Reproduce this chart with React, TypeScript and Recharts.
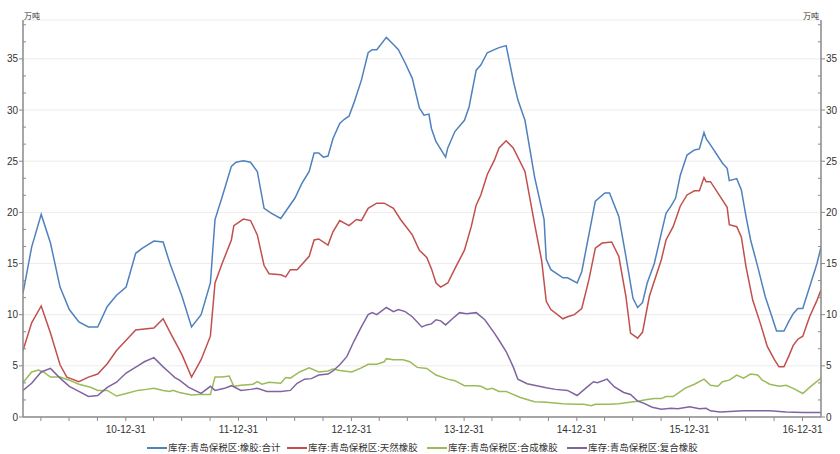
import React from "react";
import { LineChart, Line, XAxis, YAxis, CartesianGrid } from "recharts";

// ---------- data ----------
const totalDates = [
  "2010-02-01","2010-03-01","2010-04-01","2010-05-01","2010-06-01","2010-07-01","2010-08-01","2010-09-01","2010-10-01","2010-11-01","2010-12-01",
  "2011-01-01","2011-02-01","2011-02-23","2011-04-01","2011-05-01","2011-05-23","2011-07-01","2011-08-01","2011-09-01","2011-10-01","2011-10-16","2011-11-08","2011-12-08","2011-12-23",
  "2012-01-16","2012-02-08","2012-03-01","2012-03-23","2012-04-16","2012-05-16","2012-06-08","2012-07-01","2012-07-23","2012-08-16","2012-09-01","2012-09-16","2012-10-01","2012-10-16","2012-11-01","2012-11-23","2012-12-08","2012-12-23",
  "2013-01-08","2013-02-01","2013-02-23","2013-03-08","2013-03-23","2013-04-23","2013-05-16","2013-06-01","2013-06-23","2013-07-16","2013-08-08","2013-08-23","2013-09-08","2013-09-16","2013-10-01","2013-11-01","2013-11-08","2013-12-01",
  "2014-01-01","2014-01-16","2014-02-08","2014-02-23","2014-03-16","2014-04-08","2014-04-23","2014-05-16","2014-06-08","2014-06-23","2014-07-16","2014-08-16","2014-09-16","2014-09-23","2014-10-08","2014-11-16","2014-12-01",
  "2015-01-01","2015-01-16","2015-03-01","2015-04-01","2015-04-16","2015-05-16","2015-06-08","2015-07-01","2015-07-16","2015-08-01","2015-08-16","2015-09-08","2015-10-01","2015-10-16","2015-11-01","2015-11-16","2015-12-01","2015-12-23",
  "2016-01-16","2016-02-01","2016-02-16","2016-02-23","2016-03-08","2016-04-16","2016-05-01","2016-05-08","2016-06-01","2016-06-16","2016-07-01","2016-07-16","2016-08-08","2016-09-01","2016-09-23","2016-10-08","2016-11-01","2016-11-16","2016-12-01","2016-12-16",
  "2017-01-01","2017-01-23","2017-02-16","2017-03-01",
];
const totalValues = [
  12.1,16.6,19.8,17.0,12.7,10.5,9.3,8.8,8.8,10.8,11.9,
  12.7,16.0,16.5,17.2,17.1,15.0,11.8,8.8,10.0,13.1,19.3,21.5,24.5,24.9,
  25.05,24.9,24.0,20.4,19.9,19.4,20.4,21.4,22.8,24.0,25.8,25.8,25.4,25.5,27.2,28.7,29.1,29.4,
  30.7,32.9,35.6,35.9,35.9,37.1,36.4,35.9,34.6,33.1,30.2,29.5,29.6,28.2,26.9,25.4,26.3,27.9,
  29.0,30.3,33.9,34.4,35.6,35.9,36.1,36.3,32.9,31.0,29.0,23.5,19.3,15.4,14.4,13.6,13.6,
  13.1,14.2,21.1,21.9,21.9,19.6,15.7,11.6,10.7,11.2,13.1,15.0,18.0,19.9,20.6,21.4,23.6,25.6,
  26.1,26.2,27.8,27.2,26.6,24.8,24.3,23.1,23.3,22.2,19.6,17.3,14.7,11.8,9.8,8.4,8.4,9.3,10.1,10.6,
  10.6,12.7,15.0,16.6,
];

const naturalDates = [
  "2010-02-01","2010-03-01","2010-04-01","2010-05-01","2010-06-01","2010-06-23","2010-08-01","2010-09-01","2010-10-01","2010-11-01","2010-12-01",
  "2011-01-01","2011-02-01","2011-03-01","2011-04-01","2011-05-01","2011-05-23","2011-07-01","2011-08-01","2011-09-01","2011-10-01","2011-10-16","2011-11-08","2011-12-08","2011-12-16",
  "2012-01-16","2012-02-08","2012-03-01","2012-03-23","2012-04-08","2012-05-16","2012-06-01","2012-06-16","2012-07-08","2012-08-16","2012-09-01","2012-09-16","2012-10-16","2012-11-01","2012-11-23","2012-12-23",
  "2013-01-16","2013-02-01","2013-02-23","2013-03-23","2013-04-16","2013-05-16","2013-06-08","2013-07-01","2013-07-16","2013-08-08","2013-09-01","2013-09-16","2013-10-01","2013-10-16","2013-11-08","2013-12-01",
  "2014-01-01","2014-01-23","2014-02-08","2014-02-23","2014-03-16","2014-04-08","2014-04-23","2014-05-16","2014-06-08","2014-07-16","2014-08-16","2014-09-08","2014-09-23","2014-10-08","2014-11-16","2014-12-01","2014-12-23",
  "2015-01-16","2015-02-08","2015-03-01","2015-03-23","2015-04-23","2015-05-16","2015-06-08","2015-06-23","2015-07-16","2015-08-01","2015-08-23","2015-10-01","2015-10-16","2015-11-08","2015-12-01","2015-12-23",
  "2016-01-16","2016-02-01","2016-02-16","2016-02-23","2016-03-08","2016-04-16","2016-05-01","2016-05-08","2016-06-01","2016-06-16","2016-07-01","2016-07-23","2016-08-16","2016-09-08","2016-10-01","2016-10-16","2016-11-01","2016-11-16","2016-12-01","2016-12-16",
  "2017-01-01","2017-01-23","2017-02-16","2017-03-01",
];
const naturalValues = [
  6.5,9.2,10.85,8.2,5.1,3.9,3.45,3.9,4.2,5.2,6.5,
  7.5,8.5,8.6,8.7,9.6,8.3,6.1,3.9,5.6,7.9,13.1,15.0,17.3,18.7,
  19.35,19.2,17.8,14.8,14.0,13.9,13.7,14.4,14.4,15.7,17.3,17.4,16.8,18.1,19.2,18.7,
  19.3,19.2,20.4,20.9,20.9,20.4,19.3,18.4,17.8,16.3,15.6,14.5,13.1,12.7,13.1,14.5,
  16.3,18.6,20.7,21.7,23.7,25.1,26.3,27.0,26.3,24.0,18.9,15.3,11.3,10.5,9.6,9.8,10.0,
  10.6,13.4,16.5,17.0,17.1,15.7,11.8,8.2,7.7,8.3,11.8,15.4,17.3,18.6,20.6,21.7,
  22.1,22.1,23.4,23.0,23.0,21.2,20.5,18.8,18.6,17.6,14.7,11.4,9.2,6.9,5.6,4.9,4.9,5.9,7.0,7.6,
  7.9,9.8,11.4,12.4,
];

const syntheticDates = [
  "2010-02-01","2010-03-01","2010-03-23","2010-04-08","2010-05-01","2010-06-01","2010-07-01","2010-08-01","2010-09-08","2010-10-01","2010-11-01","2010-12-01",
  "2011-01-01","2011-02-08","2011-03-08","2011-04-01","2011-05-01","2011-05-23","2011-06-01","2011-06-23","2011-08-01","2011-08-23","2011-10-01","2011-10-16","2011-11-08","2011-12-01","2011-12-16",
  "2012-01-08","2012-02-16","2012-03-01","2012-03-16","2012-04-08","2012-05-16","2012-06-01","2012-06-16","2012-07-16","2012-08-16","2012-09-16","2012-10-16","2012-11-01","2012-11-23",
  "2013-01-01","2013-02-01","2013-02-23","2013-03-23","2013-04-16","2013-04-23","2013-05-16","2013-06-16","2013-07-08","2013-08-01","2013-09-01","2013-10-01","2013-11-08","2013-12-01",
  "2014-01-01","2014-02-08","2014-02-23","2014-03-16","2014-04-01","2014-04-23","2014-05-16","2014-07-01","2014-08-16","2014-09-23","2014-11-16",
  "2015-01-01","2015-01-23","2015-02-16","2015-03-01","2015-04-16","2015-05-16","2015-06-08","2015-07-16","2015-08-16","2015-09-08","2015-10-01","2015-10-16","2015-11-08","2015-11-23","2015-12-16",
  "2016-01-16","2016-02-16","2016-03-08","2016-04-01","2016-04-16","2016-05-08","2016-06-01","2016-06-23","2016-07-16","2016-08-08","2016-08-23","2016-09-16","2016-10-16","2016-11-08","2016-12-01",
  "2017-01-01","2017-01-23","2017-03-01",
];
const syntheticValues = [
  3.35,4.4,4.6,4.4,3.9,3.9,3.6,3.2,2.9,2.6,2.6,2.05,
  2.3,2.6,2.7,2.8,2.6,2.5,2.6,2.4,2.15,2.2,2.2,3.9,3.9,4.0,3.0,
  3.1,3.2,3.45,3.2,3.4,3.3,3.85,3.8,4.4,4.8,4.4,4.5,4.7,4.55,
  4.4,4.8,5.15,5.15,5.4,5.7,5.6,5.6,5.4,4.85,4.75,4.1,3.7,3.55,
  3.06,3.06,3.0,2.7,2.8,2.5,2.5,1.9,1.5,1.45,1.3,
  1.25,1.25,1.1,1.25,1.25,1.3,1.4,1.55,1.7,1.8,1.8,2.0,2.0,2.3,2.8,
  3.2,3.7,3.1,3.0,3.45,3.6,4.1,3.8,4.2,4.1,3.6,3.2,3.0,3.1,2.8,
  2.3,2.9,3.8,
];

const compoundDates = [
  "2010-02-01","2010-03-01","2010-04-01","2010-05-01","2010-06-01","2010-07-01","2010-08-01","2010-09-01","2010-10-01","2010-11-01","2010-12-01",
  "2011-01-01","2011-02-08","2011-03-01","2011-04-01","2011-05-01","2011-05-23","2011-06-08","2011-06-23","2011-07-23","2011-09-01","2011-10-01","2011-10-16","2011-11-16","2011-12-08",
  "2012-01-08","2012-02-08","2012-03-01","2012-04-01","2012-05-16","2012-06-16","2012-07-08","2012-08-01","2012-08-23","2012-09-16","2012-10-16","2012-11-01","2012-11-23","2012-12-16",
  "2013-01-08","2013-02-01","2013-02-23","2013-03-08","2013-03-23","2013-04-23","2013-05-16","2013-06-01","2013-06-23","2013-07-16","2013-08-16","2013-09-01","2013-09-16","2013-10-01","2013-10-16","2013-11-01","2013-11-23","2013-12-16",
  "2014-01-08","2014-02-08","2014-03-08","2014-04-08","2014-04-23","2014-05-16","2014-06-08","2014-06-23","2014-07-23","2014-08-23","2014-09-23","2014-10-23","2014-12-01",
  "2015-01-01","2015-02-01","2015-02-23","2015-03-08","2015-04-08","2015-05-01","2015-06-01","2015-06-23","2015-07-16","2015-08-01","2015-09-01","2015-10-01","2015-11-01","2015-11-23",
  "2016-01-01","2016-02-01","2016-02-23","2016-03-08","2016-04-08","2016-06-23","2016-09-16","2016-11-08",
  "2017-01-01","2017-03-01",
];
const compoundValues = [
  2.6,3.3,4.4,4.75,3.8,3.0,2.5,2.0,2.1,2.9,3.4,
  4.3,5.0,5.4,5.8,4.9,4.3,3.85,3.6,2.9,2.3,3.0,2.6,2.8,3.06,
  2.6,2.7,2.8,2.5,2.5,2.6,3.3,3.7,3.75,4.1,4.2,4.5,5.1,5.9,
  7.4,8.8,10.0,10.2,10.0,10.7,10.3,10.5,10.3,9.8,8.8,9.0,9.1,9.5,9.4,9.0,9.6,10.2,
  10.1,10.2,9.5,8.2,7.5,6.4,4.9,3.7,3.25,3.05,2.85,2.7,2.6,
  2.1,2.9,3.45,3.35,3.7,2.96,2.4,2.2,1.55,1.4,0.95,0.75,0.85,0.8,
  1.0,0.8,0.85,0.6,0.5,0.6,0.6,0.5,
  0.45,0.45,
];

const seriesNames = [
  "库存:青岛保税区:橡胶:合计",
  "库存:青岛保税区:天然橡胶",
  "库存:青岛保税区:合成橡胶",
  "库存:青岛保税区:复合橡胶",
];
const seriesColors = ["#4f81bd", "#c0504d", "#9bbb59", "#8064a2"];

const yTickValues = [0, 5, 10, 15, 20, 25, 30, 35];
const xTickDates = [
  "2010-03-31","2010-06-30","2010-09-30","2010-12-31",
  "2011-03-31","2011-06-30","2011-09-30","2011-12-31",
  "2012-03-31","2012-06-30","2012-09-30","2012-12-31",
  "2013-03-31","2013-06-30","2013-09-30","2013-12-31",
  "2014-03-31","2014-06-30","2014-09-30","2014-12-31",
  "2015-03-31","2015-06-30","2015-09-30","2015-12-31",
  "2016-03-31","2016-06-30","2016-09-30","2016-12-31",
];
const xDomainDates = ["2010-02-01", "2017-03-01"];
const unitLabel = "万吨";

// ---------- helpers ----------
const toTs = (s: string) => {
  const [y, m, d] = s.split("-").map(Number);
  return Date.UTC(y, m - 1, d);
};
const build = (dates: string[], values: number[]) =>
  dates.map((d, i) => ({ t: toTs(d), v: values[i] }));

const seriesData = [
  build(totalDates, totalValues),
  build(naturalDates, naturalValues),
  build(syntheticDates, syntheticValues),
  build(compoundDates, compoundValues),
];

const W = 840;
const H = 454;
const LEFT_X = 23;
const RIGHT_X = 821;
const TOP_Y = 20;
const BOTTOM_Y = 417;
const Y_MAX = 38.8;
const PX_PER_UNIT = (BOTTOM_Y - TOP_Y) / Y_MAX;
const AXIS_COLOR = "#8a8a8a";
const TEXT_COLOR = "#333333";
const FONT = "'Liberation Sans', 'Noto Sans CJK SC', sans-serif";

const minorSteps = [5 / 3, 10 / 3];

const LeftTick = (props: any) => {
  const { y, payload } = props;
  const v = payload.value as number;
  return (
    <g>
      <line x1={LEFT_X - 4} x2={LEFT_X} y1={y} y2={y} stroke={AXIS_COLOR} strokeWidth={1} />
      {minorSteps
        .filter((s) => v + s <= Y_MAX)
        .map((s) => (
          <line key={s} x1={LEFT_X} x2={LEFT_X + 3} y1={y - s * PX_PER_UNIT} y2={y - s * PX_PER_UNIT} stroke={AXIS_COLOR} strokeWidth={1} />
        ))}
      <text x={LEFT_X - 5} y={y} dy="0.35em" textAnchor="end" fontSize={10} fill={TEXT_COLOR} fontFamily={FONT}>
        {v}
      </text>
    </g>
  );
};

const RightTick = (props: any) => {
  const { y, payload } = props;
  const v = payload.value as number;
  return (
    <g>
      <line x1={RIGHT_X} x2={RIGHT_X + 4} y1={y} y2={y} stroke={AXIS_COLOR} strokeWidth={1} />
      {minorSteps
        .filter((s) => v + s <= Y_MAX)
        .map((s) => (
          <line key={s} x1={RIGHT_X - 3} x2={RIGHT_X} y1={y - s * PX_PER_UNIT} y2={y - s * PX_PER_UNIT} stroke={AXIS_COLOR} strokeWidth={1} />
        ))}
      <text x={RIGHT_X + 5} y={y} dy="0.35em" textAnchor="start" fontSize={10} fill={TEXT_COLOR} fontFamily={FONT}>
        {v}
      </text>
    </g>
  );
};

const XTick = (props: any) => {
  const { x, payload } = props;
  const d = new Date(payload.value);
  const isYearEnd = d.getUTCMonth() === 11;
  const label = `${String(d.getUTCFullYear() % 100).padStart(2, "0")}-12-31`;
  return (
    <g>
      <line x1={x} x2={x} y1={BOTTOM_Y} y2={BOTTOM_Y + 4} stroke={AXIS_COLOR} strokeWidth={1} />
      {isYearEnd && (
        <text x={x} y={429} dy="0.35em" textAnchor="middle" fontSize={10} fill={TEXT_COLOR} fontFamily={FONT}>
          {label}
        </text>
      )}
    </g>
  );
};

export default function App() {
  return (
    <div style={{ position: "absolute", left: 0, top: 0, width: W, height: H, background: "#fff" }}>
      <LineChart width={W} height={H} margin={{ top: TOP_Y, right: 0, bottom: 0, left: 0 }}>
        <CartesianGrid horizontal vertical={false} stroke="#ececec" strokeWidth={1} />
        <XAxis
          dataKey="t"
          type="number"
          domain={[toTs(xDomainDates[0]), toTs(xDomainDates[1])]}
          ticks={xTickDates.map(toTs)}
          tick={<XTick />}
          tickLine={false}
          axisLine={{ stroke: AXIS_COLOR, strokeWidth: 1.5 }}
          height={H - BOTTOM_Y}
          allowDataOverflow
          interval={0}
        />
        <YAxis
          type="number"
          domain={[0, Y_MAX]}
          ticks={yTickValues}
          tick={<LeftTick />}
          tickLine={false}
          axisLine={{ stroke: AXIS_COLOR, strokeWidth: 1.5 }}
          width={LEFT_X}
          interval={0}
          allowDataOverflow
        />
        <YAxis
          yAxisId="right"
          orientation="right"
          type="number"
          domain={[0, Y_MAX]}
          ticks={yTickValues}
          tick={<RightTick />}
          tickLine={false}
          axisLine={{ stroke: AXIS_COLOR, strokeWidth: 1.5 }}
          width={W - RIGHT_X}
          interval={0}
          allowDataOverflow
        />
        {seriesData.map((data, i) => (
          <Line
            key={seriesNames[i]}
            data={data}
            dataKey="v"
            name={seriesNames[i]}
            type="linear"
            stroke={seriesColors[i]}
            strokeWidth={1.5}
            dot={false}
            activeDot={false}
            isAnimationActive={false}
            yAxisId={i === 3 ? "right" : 0}
          />
        ))}
      </LineChart>
      <div style={{ position: "absolute", left: LEFT_X + 1, top: 12, fontSize: 8, color: TEXT_COLOR, fontFamily: FONT, lineHeight: "10px" }}>
        {unitLabel}
      </div>
      <div style={{ position: "absolute", right: W - RIGHT_X + 2, top: 12, fontSize: 8, color: TEXT_COLOR, fontFamily: FONT, lineHeight: "10px" }}>
        {unitLabel}
      </div>
      <div style={{ position: "absolute", left: 147, top: 442, display: "flex", fontFamily: FONT, fontSize: 9.5, color: TEXT_COLOR, lineHeight: "12px" }}>
        {seriesNames.map((n, i) => (
          <div key={n} style={{ width: 140, display: "flex", alignItems: "center" }}>
            <span style={{ display: "inline-block", width: 20, height: 2, background: seriesColors[i], marginRight: 1 }} />
            <span style={{ whiteSpace: "nowrap" }}>{n}</span>
          </div>
        ))}
      </div>
    </div>
  );
}
